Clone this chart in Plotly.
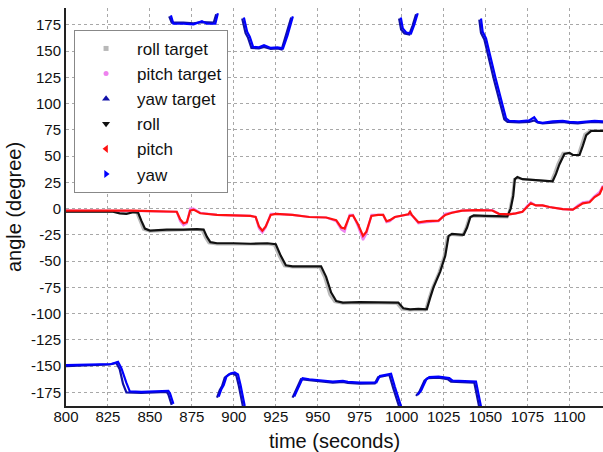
import plotly.graph_objects as go

# ---------------- data ----------------
roll_t = [800, 810, 820, 828, 832, 836, 840, 843, 845, 847, 850, 860, 870, 878, 882, 884, 886, 890,
          900, 910, 920, 925, 928, 931, 935, 945, 952, 955, 958, 961, 965, 975, 985, 992, 998, 1001,
          1005, 1010, 1015, 1017, 1019, 1023, 1026, 1028, 1030, 1037, 1039, 1041, 1043, 1050, 1058,
          1063, 1065, 1066.5, 1067.5, 1069, 1072, 1080, 1090, 1092, 1094, 1097, 1100, 1102, 1106,
          1108, 1110, 1113, 1120]
roll_v = [-3, -3, -3.5, -3, -4.5, -5, -3.5, -4, -12, -19, -21, -20, -20, -19.5, -20, -27, -32, -33,
          -33, -33.5, -33, -34, -45, -54, -55, -55, -55, -65, -80, -88, -89.5, -89, -89, -89, -89.5, -95,
          -96, -95.5, -96, -85, -75, -60, -45, -26, -24, -25, -18, -8, -6.5, -7, -7.5,
          -7.5, 0, 12, 28, 30, 28, 27, 26, 33, 42, 52, 53, 51, 51,
          60, 70, 74, 74]

roll_target_t = [800, 810, 820, 828, 832, 836, 840, 842, 844, 846, 850, 860, 870, 878, 881, 883, 885, 890,
                 900, 910, 920, 924, 927, 930, 935, 945, 951, 954, 957, 960, 965, 975, 985, 992, 997, 1000,
                 1005, 1010, 1014, 1016, 1018, 1022, 1025, 1027, 1030, 1036, 1038, 1040, 1042, 1050, 1058,
                 1063, 1064.5, 1066, 1067, 1069, 1072, 1080, 1089, 1091, 1093, 1096, 1100, 1102, 1105,
                 1107, 1109, 1112, 1120]
roll_target_v = [-3, -3, -3, -3, -3, -3, -3, -4, -13, -20, -22, -21, -20.5, -20, -21, -28, -33, -34,
                 -34, -34, -34, -35, -46, -55, -56, -56, -56, -66, -82, -89, -90.5, -90, -90, -90, -90.5, -96,
                 -97, -96.5, -97, -86, -76, -61, -46, -27, -25, -26, -19, -9, -7.5, -8, -8.5,
                 -8.5, 1, 13, 28, 29, 28, 27, 26, 34, 43, 53, 53, 51, 51,
                 61, 71, 74, 74]

pitch_t = [800, 810, 820, 830, 835, 840, 850, 860, 866, 868, 870, 872, 874, 876, 880, 890, 900, 910, 913,
           915, 917, 919, 922, 925, 935, 945, 955, 961, 964, 966, 969, 971, 974, 977, 979, 982, 986, 989,
           991, 993, 996, 1000, 1004, 1005, 1006, 1010, 1015, 1022, 1026, 1030, 1036, 1045, 1054, 1058,
           1064, 1068, 1072, 1075, 1077, 1080, 1084, 1088, 1092, 1096, 1102, 1105, 1108, 1112, 1115,
           1118, 1120]
pitch_v = [-2, -2, -2, -2, -1.5, -2, -2.5, -3, -3, -10, -14, -13, -2, -1, -4.5, -6, -6.5, -7, -8,
           -17, -21, -17, -6, -5, -6, -8, -8.5, -11, -18, -19, -7, -6.5, -15, -26, -22, -7, -6, -6,
           -12, -11, -8, -7, -5.5, -3, -6, -13, -12, -11.5, -6, -4, -2, -1.5, -1.8, -5,
           -5.5, -4.5, -3, 2, 5, 3, 3, 1.5, 0.5, -0.5, -1, 2, 5, 6, 11,
           14, 21]

pitch_target_t = [800, 810, 820, 830, 840, 850, 860, 866, 868, 870, 872, 874, 876, 880, 890, 900, 910,
                  913, 915, 917, 919, 922, 925, 935, 945, 955, 961, 964, 966, 969, 971, 974, 977, 979,
                  982, 986, 989, 991, 993, 996, 1000, 1004, 1006, 1010, 1015, 1022, 1026, 1030, 1036,
                  1045, 1054, 1058, 1064, 1068, 1072, 1075, 1077, 1080, 1084, 1088, 1092, 1096, 1102,
                  1105, 1108, 1112, 1115, 1118, 1120]
pitch_target_v = [-2, -2, -2, -2, -2, -2.5, -3, -3, -12, -16, -14, 0, 0, -4, -6, -6.5, -7,
                  -8, -19, -23, -18, -5, -5, -6, -8, -8.5, -12, -20, -22, -6, -6, -17, -30, -24,
                  -6, -6, -6, -13, -12, -8, -7, -5.5, -6, -14, -13, -12, -5, -4, -2,
                  -1.5, -1.5, -5, -5.5, -4.5, -3, 3, 6, 3, 3, 1.5, 0.5, -0.5, -1,
                  3, 6, 7, 12, 16, 22]

# yaw is wrapped at +/-180 deg; None separates the wrapped pieces
yaw_t = [800, 810, 820, 827, 831, 833, 836, 838, 845, 855, 861, 862, 864, None,
         862.5, 864, 870, 876, 881, 884, 889, 890.5, None,
         891, 892.6, 894, 895.6, 898, 900.5, 902.5, 904, 906.5, None,
         906, 908, 909.5, 911.5, 915, 918, 922, 926, 929.3, 932, 935.2, None,
         936, 938, 941, 945, 950, 959, 965, 968, 975, 982, 985, 987, 993.7, 996, 999.7, None,
         999.5, 1000.7, 1002.7, 1005.6, 1007.5, 1009.6, None,
         1009.6, 1011.6, 1014.6, 1016.5, 1022, 1028.4, 1030.4, 1038, 1044.3, 1047.3, None,
         1047.3, 1048.3, 1050.3, 1056, 1062.2, 1064.1, 1070, 1076, 1079, 1081, 1084, 1090, 1096,
         1100, 1105, 1110, 1115, 1120]
yaw_v = [-149, -148.5, -148.5, -148, -146, -152, -166, -174, -174.5, -173.5, -173.5, -176, -186, None,
         184, 176, 176, 175.5, 178.5, 176, 176, 186, None,
         -179, -172, -168, -160, -157, -156, -158, -168, -188, None,
         182, 168, 163.6, 154, 153.5, 155.5, 153, 153.5, 152.5, 165, 183, None,
         -179, -172, -161.5, -162.5, -163.5, -164.7, -164, -165, -165.7, -165.5, -165.5, -159.5, -157.4, -170, -188.5, None,
         182, 171.6, 167.7, 166.8, 175, 186, None,
         -177.4, -173.3, -163, -160.5, -160, -161.5, -163.8, -164, -164.7, -188.5, None,
         181, 168.3, 162, 124, 86, 83.6, 83, 84, 87, 82.5, 81.7, 83, 83.5,
         82.5, 82, 83, 83.5, 83]

yaw_target_t = [800, 810, 820, 826, 830, 832, 834, 836, 845, 855, 860, 861, 863, None,
                861.5, 863, 870, 876, 881, 884, 888, 889.5, None,
                890, 891.6, 893, 894.6, 897, 899.5, 901.5, 903, 905.5, None,
                905, 907, 908.5, 910.5, 915, 918, 922, 926, 928.5, 931, 934.2, None,
                935, 937, 940, 945, 950, 959, 965, 968, 975, 982, 984, 986, 992.7, 995, 998.7, None,
                998.5, 999.7, 1001.7, 1004.6, 1006.5, 1008.6, None,
                1008.6, 1010.6, 1013.6, 1015.5, 1022, 1027.4, 1029.4, 1038, 1043.3, 1046.3, None,
                1046.3, 1047.3, 1049.3, 1055, 1061.2, 1063.1, 1070, 1076, 1079, 1081, 1084, 1090, 1096,
                1100, 1105, 1110, 1115, 1120]
yaw_target_v = [-150, -149.5, -149.5, -148.5, -147, -153, -167, -175, -175.5, -174.5, -174.5, -177, -187, None,
                183, 177, 177, 176.5, 177.5, 177, 177, 185, None,
                -180, -173, -169, -161, -158, -157, -159, -169, -189, None,
                181, 167, 162.6, 153, 152.5, 154, 152, 152.5, 151.5, 164, 182, None,
                -180, -173, -162.5, -163.5, -164.5, -165.7, -165, -166, -166.7, -166.5, -166.5, -160.5, -158.4, -171, -189.5, None,
                181, 170.6, 166.7, 165.8, 174, 185, None,
                -178.4, -174.3, -164, -161.5, -161, -162.5, -164.8, -165, -165.7, -189.5, None,
                180, 167.3, 161, 123, 85, 82.6, 82, 82.5, 84, 82, 81, 82, 82.5,
                81.5, 81, 82, 82.5, 82]

y_tick_vals = [-175, -150, -125, -100, -75, -50, -25, 0, 25, 50, 75, 100, 125, 150, 175]
y_tick_text = ["-175", "-150", "-125", "-100", "-75", "-50", "-25", "0", "25", "50", "75", "100",
               "125", "150", "175"]
x_tick_vals = [800, 825, 850, 875, 900, 925, 950, 975, 1000, 1025, 1050, 1075, 1100]
x_tick_text = ["800", "825", "850", "875", "900", "925", "950", "975", "1000", "1025", "1050",
               "1075", "1100"]

# ---------------- styles ----------------
series = [
    ("roll target", roll_target_t, roll_target_v, "#b8b8b8", "square", 5),
    ("pitch target", pitch_target_t, pitch_target_v, "#ee82ee", "circle", 5),
    ("yaw target", yaw_target_t, yaw_target_v, "#1010a8", "triangle-up", 7),
    ("roll", roll_t, roll_v, "#111111", "triangle-down", 7),
    ("pitch", pitch_t, pitch_v, "#ff1010", "triangle-left", 7),
    ("yaw", yaw_t, yaw_v, "#0000ff", "triangle-right", 7),
]

fig = go.Figure()
for name, t, v, color, sym, msize in series:
    fig.add_trace(go.Scatter(x=t, y=v, mode="lines", line=dict(color=color, width=2.2),
                             showlegend=False, legendgroup=name, hoverinfo="skip"))
for name, t, v, color, sym, msize in series:
    fig.add_trace(go.Scatter(x=[None], y=[None], mode="markers", name=name, legendgroup=name,
                             marker=dict(color=color, symbol=sym, size=msize)))

font_family = "Liberation Sans, Arial, sans-serif"
fig.update_layout(
    width=603, height=452,
    margin=dict(l=66, r=0, t=8, b=46),
    paper_bgcolor="white", plot_bgcolor="white",
    font=dict(family=font_family, color="#111111"),
    legend=dict(x=0.015, y=0.945, xanchor="left", yanchor="top",
                bgcolor="white", bordercolor="#888888", borderwidth=1,
                font=dict(size=17, family=font_family, color="#111111"),
                itemwidth=52, tracegroupgap=0),
    xaxis=dict(range=[800, 1120], tickvals=x_tick_vals, ticktext=x_tick_text,
               showgrid=True, gridcolor="#a8a8a8", griddash="dot", gridwidth=1,
               zeroline=False, showline=True, linecolor="#222222", linewidth=2,
               ticks="", tickfont=dict(size=15, color="#111111"), ticklabelstandoff=-4,
               title=dict(text="time (seconds)", font=dict(size=20), standoff=10)),
    yaxis=dict(range=[-188, 191], tickvals=y_tick_vals, ticktext=y_tick_text,
               showgrid=True, gridcolor="#a8a8a8", griddash="dot", gridwidth=1,
               zeroline=False, showline=True, linecolor="#222222", linewidth=2,
               ticks="", tickfont=dict(size=15, color="#111111"),
               title=dict(text="angle (degree)", font=dict(size=20), standoff=4)),
)

fig.write_html("out.html")
